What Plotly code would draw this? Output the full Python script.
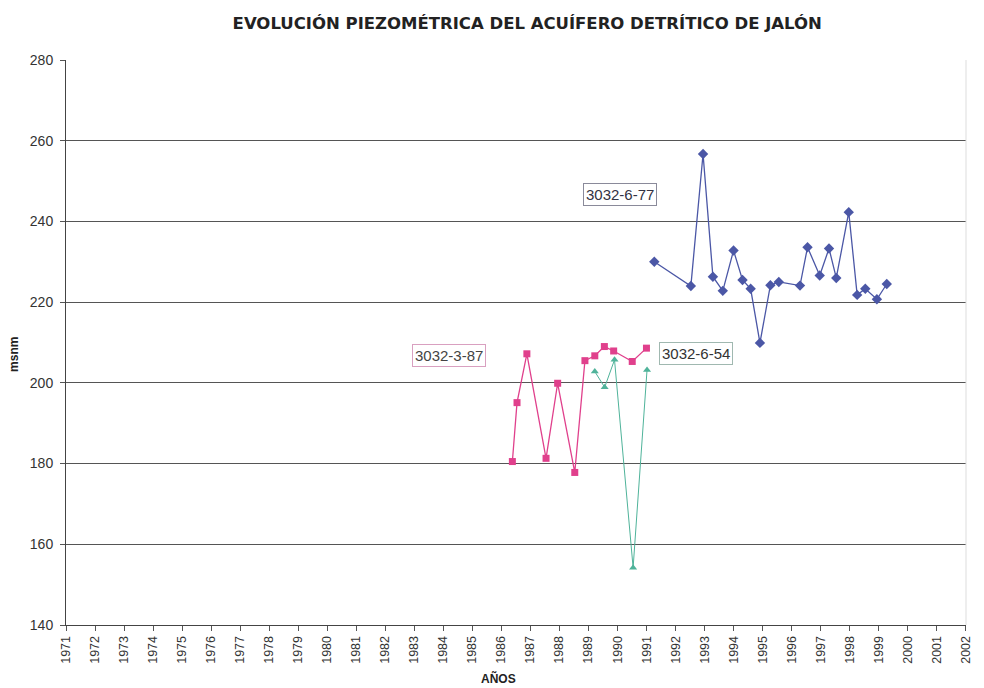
import plotly.graph_objects as go

years = list(range(1971, 2003))

x_6_77 = [1991.27, 1992.53, 1992.95, 1993.29, 1993.63, 1994.0, 1994.31, 1994.59, 1994.91,
          1995.27, 1995.56, 1996.29, 1996.55, 1996.97, 1997.29, 1997.54, 1997.97, 1998.26,
          1998.54, 1998.94, 1999.28]
y_6_77 = [230.0, 224.0, 256.7, 226.3, 222.8, 232.8, 225.5, 223.3, 209.9,
          224.2, 225.0, 224.1, 233.6, 226.6, 233.3, 226.0, 242.3, 221.8,
          223.3, 220.7, 224.5]

x_3_87 = [1986.38, 1986.54, 1986.88, 1987.54, 1987.94, 1988.53, 1988.88, 1989.22, 1989.55,
          1989.87, 1990.51, 1991.0]
y_3_87 = [180.5, 195.1, 207.2, 181.3, 199.9, 177.8, 205.5, 206.7, 209.0,
          207.9, 205.3, 208.6]

x_6_54 = [1989.22, 1989.56, 1989.9, 1990.54, 1991.02]
y_6_54 = [202.8, 198.9, 205.7, 154.2, 203.2]

labels = ["3032-6-77", "3032-3-87", "3032-6-54"]
label_x = [1990.08, 1984.2, 1992.7]
label_y = [246.6, 206.9, 207.2]

font = "Liberation Sans, Arial, sans-serif"

fig = go.Figure()
fig.add_trace(go.Scatter(x=x_6_77, y=y_6_77, mode="lines+markers", name=labels[0],
                         line=dict(color="#4b57a6", width=1.3),
                         marker=dict(symbol="diamond", size=8, color="#4b57a6")))
fig.add_trace(go.Scatter(x=x_3_87, y=y_3_87, mode="lines+markers", name=labels[1],
                         line=dict(color="#e0408c", width=1.3),
                         marker=dict(symbol="square", size=7, color="#e0408c")))
fig.add_trace(go.Scatter(x=x_6_54, y=y_6_54, mode="lines+markers", name=labels[2],
                         line=dict(color="#4fb39a", width=1),
                         marker=dict(symbol="triangle-up", size=7, color="#4fb39a")))

border_colors = ["#8a8a9a", "#d9a0c0", "#a0b8b0"]
text_colors = ["#333344", "#444444", "#333333"]
for t, lx, ly, bc, tc in zip(labels, label_x, label_y, border_colors, text_colors):
    fig.add_annotation(x=lx, y=ly, text=t, showarrow=False,
                       font=dict(family=font, size=15, color=tc),
                       bordercolor=bc, borderwidth=1, borderpad=2, bgcolor="white")

fig.add_annotation(xref="paper", yref="paper", x=0.481, y=0, yshift=-53,
                   xanchor="center", yanchor="middle", showarrow=False,
                   text="<b>AÑOS</b>", font=dict(family=font, size=12, color="#222222"))
fig.add_annotation(xref="paper", yref="paper", x=0, xshift=-52, y=0.478,
                   xanchor="center", yanchor="middle", showarrow=False, textangle=-90,
                   text="<b>msnm</b>", font=dict(family=font, size=12, color="#222222"))

fig.update_layout(
    width=976, height=680,
    margin=dict(l=58, r=11, t=52, b=63),
    paper_bgcolor="white", plot_bgcolor="white",
    showlegend=False,
    title=dict(text="<b>EVOLUCIÓN PIEZOMÉTRICA DEL ACUÍFERO DETRÍTICO DE JALÓN</b>",
               x=0.532, xanchor="center", y=0.978, yanchor="middle",
               font=dict(family="DejaVu Sans, sans-serif", size=16.5, color="#222222")),
    font=dict(family=font, size=12, color="#333333"),
)
fig.update_xaxes(range=[1971, 2002.01], tickmode="array", tickvals=years,
                 ticktext=[str(y) for y in years], tickangle=-90,
                 ticks="outside", ticklen=5, tickcolor="#555555",
                 ticklabeloverflow="allow",
                 showgrid=False, zeroline=False,
                 showline=True, linecolor="#444444", linewidth=1, mirror=False,
                 tickfont=dict(family=font, size=12.5, color="#333333"))
fig.update_yaxes(range=[140, 280], tickmode="array", tickvals=list(range(140, 281, 20)),
                 ticks="outside", ticklen=5, tickcolor="#555555", ticklabelstandoff=4,
                 showgrid=True, gridcolor="#555555", gridwidth=1, zeroline=False,
                 showline=True, linecolor="#444444", linewidth=1,
                 tickfont=dict(family=font, size=14, color="#333333"))
fig.add_shape(type="line", xref="paper", yref="paper", x0=1, x1=1, y0=0, y1=1,
              line=dict(color="#dddddd", width=1))

fig.write_html("out.html")
